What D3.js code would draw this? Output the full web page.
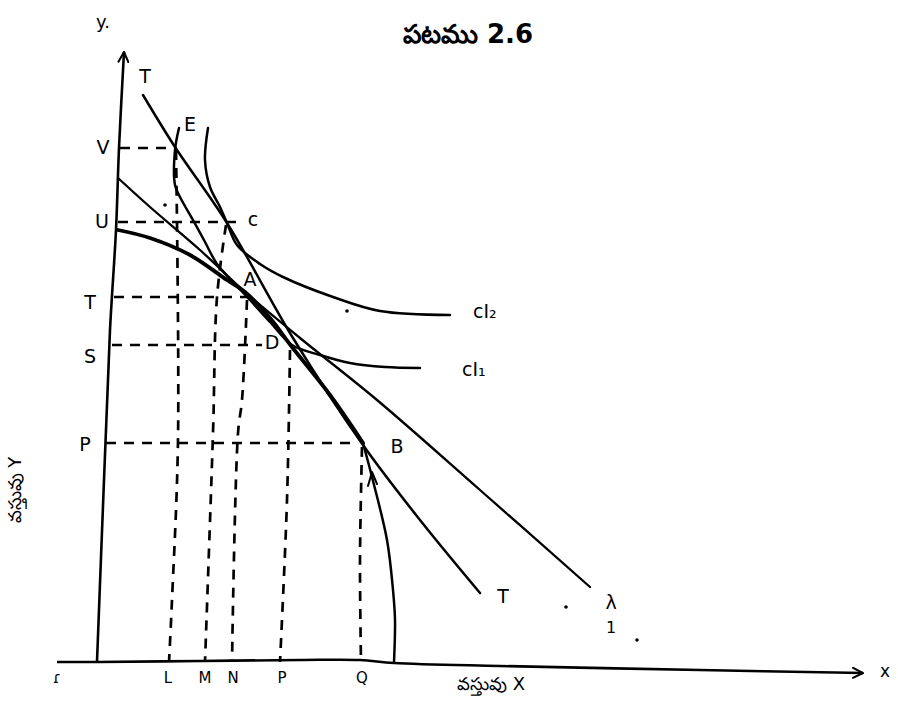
<!DOCTYPE html>
<html>
<head>
<meta charset="utf-8">
<script src="https://cdn.jsdelivr.net/npm/d3@7"></script>
<style>
  html, body { margin: 0; padding: 0; background: #fff; }
  svg { display: block; }
  text { font-family: "DejaVu Sans", "Liberation Sans", sans-serif; fill: #000; }
</style>
</head>
<body>
<svg id="chart" width="898" height="703"></svg>
<script>
// ---------- data (diagram units: x = goods X, y = goods Y) ----------
const title = "పటము 2.6";
const xAxisTitle = "వస్తువు X";
const yAxisTitle = "వస్తువు Y";

const yAxisLine = [[0,0],[7,182],[13,332],[19,432],[22,514],[27,610]];
const xAxisLine = [[-40,0],[0,0],[103,1],[203,2],[263,2],[297,-1],[403,-4],[603,-8],[766,-11]];

// price line T–T
const priceLineT = [[46,567],[78,515],[130,439],[196,324],[266,217],[323,142],[383,69]];
// price line T–T1
const priceLineT1 = [[21,484],[53,455],[103,412],[148,370],[203,324],[280,262],[383,172],[493,75]];
// consumption curve U–A–D–B bending back to X axis
const curveThick = [[21,432],[53,424],[93,407],[130,382],[148,370],[173,344],[195,315],[233,267],[266,219]];
const curveBack = [[266,219],[275,185],[290,122],[296,72],[298,42],[297,0]];
// indifference curves
const ic1 = [[82,534],[78,512],[78,477],[83,465],[96,442],[108,420],[120,398],[136,380],[153,362],[173,340],[195,317],[223,307],[253,299],[288,295],[323,294]];
const ic2 = [[111,534],[108,502],[113,475],[123,455],[130,439],[140,417],[163,398],[186,385],[236,365],[283,351],[353,347]];

// horizontal guides from the Y axis
const yLevelNames = ["V","U","T","S","P"];
const yLevelValues = [514, 440, 365, 317, 219];
const yLevelStart = [23, 21, 17, 15, 9];
const yLevelEnd = [80, 143, 153, 165, 253];

// vertical guides to the X axis
const xLevelNames = ["L","M","N","P","Q"];
const xGuideL = [[79,512],[81,222],[75,62],[72,0]];
const xGuideM = [[129,437],[120,365],[116,229],[108,0]];
const xGuideN = [[150,362],[145,262],[141,229],[135,0]];
const xGuideP = [[193,312],[190,162],[183,0]];
const xGuideQ = [[265,215],[263,102],[264,0]];
const xGuides = [xGuideL, xGuideM, xGuideN, xGuideP, xGuideQ];
const xLevelLabelPos = [72, 109, 137, 186, 266];

// point labels
const pointNames = ["E","c","A","D","B"];
const pointPos = [[93,537],[156,442],[153,382],[175,319],[300,215]];
const lineLabels = [["T",48,585],["T",406,65],["λ",514,59],["1",514,34]];
const icLabels = [["cI₂",376,350],["cI₁",365,292]];
const specks = [[68,457],[250,351],[469,55],[540,22]];

// ---------- scales ----------
const svg = d3.select("#chart");
const x = d3.scaleLinear().domain([0, 770]).range([97, 867]);
const y = d3.scaleLinear().domain([0, 610]).range([662, 52]);

const line = d3.line().x(d => x(d[0])).y(d => y(d[1])).curve(d3.curveCatmullRom.alpha(0.5));
const straight = d3.line().x(d => x(d[0])).y(d => y(d[1]));

// arrow marker
const defs = svg.append("defs");
defs.append("marker").attr("id","arr").attr("viewBox","0 0 12 12")
  .attr("refX",11).attr("refY",6).attr("markerWidth",12).attr("markerHeight",12)
  .attr("markerUnits","userSpaceOnUse").attr("orient","auto")
  .append("path").attr("d","M1,1 L11,6 L1,11").attr("fill","none")
  .attr("stroke","#000").attr("stroke-width",2).attr("stroke-linecap","round");

// ---------- axes ----------
svg.append("path").attr("d", line(yAxisLine)).attr("fill","none")
  .attr("stroke","#000").attr("stroke-width",2.6).attr("marker-end","url(#arr)");
svg.append("path").attr("d", line(xAxisLine)).attr("fill","none")
  .attr("stroke","#000").attr("stroke-width",2.6).attr("marker-end","url(#arr)");

// ---------- dashed guides ----------
const gDash = svg.append("g").attr("fill","none").attr("stroke","#000")
  .attr("stroke-width",2.7).attr("stroke-dasharray","10,8");
yLevelValues.forEach((v,i) => {
  gDash.append("path").attr("d", straight([[yLevelStart[i], v],[yLevelEnd[i], v]]));
});
xGuides.forEach(g => gDash.append("path").attr("d", line(g)));

// ---------- curves ----------
const gC = svg.append("g").attr("fill","none").attr("stroke","#000")
  .attr("stroke-linecap","round").attr("stroke-linejoin","round");
gC.append("path").attr("d", line(priceLineT)).attr("stroke-width",2.5);
gC.append("path").attr("d", line(priceLineT1)).attr("stroke-width",2.3);
gC.append("path").attr("d", line(curveThick)).attr("stroke-width",3.8);
gC.append("path").attr("d", line(curveBack)).attr("stroke-width",2.5);
gC.append("path").attr("d", line(ic1)).attr("stroke-width",2.5);
gC.append("path").attr("d", line(ic2)).attr("stroke-width",2.5);
// small arrow tick on the back-bending part
gC.append("path").attr("d", straight([[271,176],[275,190],[280,178]])).attr("stroke-width",2);

// ---------- labels ----------
svg.append("text").attr("x", 468).attr("y", 43).attr("text-anchor","middle")
  .attr("font-size", 26).attr("font-weight","bold").text(title);

svg.append("text").attr("x", 103).attr("y", 28).attr("text-anchor","middle")
  .attr("font-size", 18).text("y.");

const yLabelX = [6, 5, -7, -7, -12];
const yLabelDy = [0, 0, 6, 12, 2];
yLevelNames.forEach((n,i) => {
  svg.append("text").attr("x", x(yLabelX[i])).attr("y", y(yLevelValues[i]) + yLabelDy[i])
    .attr("text-anchor","middle").attr("dominant-baseline","middle")
    .attr("font-size", 19).text(n);
});

svg.append("text").attr("x", x(-40)).attr("y", y(-16)).attr("text-anchor","middle")
  .attr("dominant-baseline","middle").attr("font-size", 15).text("ɾ");
xLevelNames.forEach((n,i) => {
  svg.append("text").attr("x", x(xLevelLabelPos[i]) - 1).attr("y", y(-16))
    .attr("text-anchor","middle").attr("dominant-baseline","middle")
    .attr("font-size", 15).text(n);
});
svg.append("text").attr("x", x(394)).attr("y", y(-23)).attr("text-anchor","middle")
  .attr("dominant-baseline","middle").attr("font-size", 18).text(xAxisTitle);
svg.append("text").attr("x", x(788)).attr("y", y(-10)).attr("text-anchor","middle")
  .attr("dominant-baseline","middle").attr("font-size", 17).text("x");

svg.append("text").attr("transform", `translate(16,${y(172)}) rotate(-90)`)
  .attr("text-anchor","middle").attr("dominant-baseline","middle")
  .attr("font-size", 18).text(yAxisTitle);

pointNames.forEach((n,i) => {
  svg.append("text").attr("x", x(pointPos[i][0])).attr("y", y(pointPos[i][1]))
    .attr("text-anchor","middle").attr("dominant-baseline","middle")
    .attr("font-size", 19).text(n);
});
lineLabels.forEach(d => {
  svg.append("text").attr("x", x(d[1])).attr("y", y(d[2]))
    .attr("text-anchor","middle").attr("dominant-baseline","middle")
    .attr("font-size", d[0] === "1" ? 16 : 19).text(d[0]);
});
icLabels.forEach(d => {
  svg.append("text").attr("x", x(d[1])).attr("y", y(d[2]))
    .attr("dominant-baseline","middle").attr("font-size", 19).text(d[0]);
});
specks.forEach(d => {
  svg.append("circle").attr("cx", x(d[0])).attr("cy", y(d[1])).attr("r", 1.8).attr("fill","#000");
});
</script>
</body>
</html>
